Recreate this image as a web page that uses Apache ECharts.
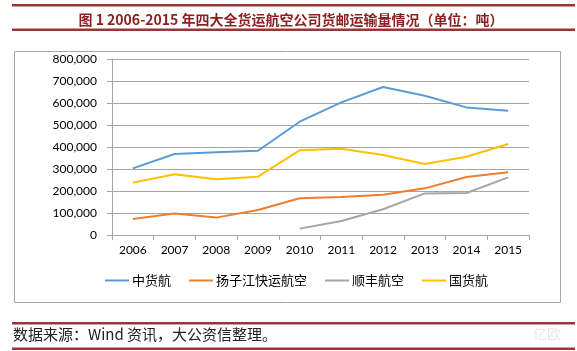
<!DOCTYPE html>
<html><head><meta charset="utf-8">
<script src="https://cdn.jsdelivr.net/npm/echarts@6/dist/echarts.min.js"></script>
<style>html,body{margin:0;padding:0;background:#fff}#c{width:577px;height:351px}</style>
</head><body><div id="c"></div>
<script>
const years = ['2006','2007','2008','2009','2010','2011','2012','2013','2014','2015'];
const ckh = [303000,368000,376000,383000,515000,603000,673000,633000,580000,565000];
const yzj = [73000,98000,79000,114000,167000,173000,183000,212000,264000,285000];
const sf = [null,null,null,null,29000,64000,117000,189000,191000,262000];
const ghh = [238000,276000,253000,265000,385000,392000,364000,323000,356000,414000];
const names = ['中货航','扬子江快运航空','顺丰航空','国货航'];
const colors = ['#5B9BD5','#ED7D31','#A5A5A5','#FFC000'];
const yTicks = [0,100000,200000,300000,400000,500000,600000,700000,800000];

const chart = echarts.init(document.getElementById('c'), null, {renderer:'canvas'});
const red = '#9B3434';
const mk = (name, data, i) => ({name, type:'line', data, symbol:'none', connectNulls:false,
  lineStyle:{width:2, color:colors[i]}, itemStyle:{color:colors[i]}, z:3});
chart.setOption({
  animation:false,
  title:{text:'图 1 2006-2015 年四大全货运航空公司货邮运输量情况（单位：吨）', left:286, textAlign:'center', top:8,
    textStyle:{fontSize:14, fontWeight:'bold', color:'#8B1F1F', fontFamily:'"Noto Sans CJK SC", "DejaVu Sans"'}},
  grid:{left:112, right:48, top:59, bottom:116},
  xAxis:{type:'category', data:years, boundaryGap:true,
    axisLine:{lineStyle:{color:'#A6A6A6'}}, axisTick:{show:true, length:5, lineStyle:{color:'#A6A6A6'}},
    axisLabel:{color:'#000', fontSize:12, fontFamily:'Lato', margin:9}},
  yAxis:{type:'value', min:0, max:800000, interval:100000,
    axisLine:{show:true, lineStyle:{color:'#A6A6A6'}}, axisTick:{show:true, length:5, lineStyle:{color:'#A6A6A6'}},
    splitLine:{lineStyle:{color:'#A6A6A6'}},
    axisLabel:{color:'#000', fontSize:12, fontFamily:'Lato', margin:15,
      formatter:v=>v.toLocaleString('en-US')}},
  legend:{left:100, top:269, itemWidth:24, itemHeight:2, itemGap:18, icon:'rect',
    textStyle:{fontSize:13, color:'#000', fontFamily:'"Noto Sans CJK SC"', padding:[0,0,0,-2]},
    data:names},
  series:[mk(names[0],ckh,0), mk(names[1],yzj,1), mk(names[2],sf,2), mk(names[3],ghh,3)],
  graphic:[
    {type:'rect', shape:{x:0,y:4,width:563,height:2.5}, left:12, top:4, style:{fill:red}},
    {type:'rect', shape:{x:0,y:0,width:563,height:2.5}, left:12, top:28.5, style:{fill:red}},
    {type:'rect', shape:{x:14.5,y:51.5,width:546,height:251}, style:{fill:'none', stroke:'#A6A6A6', lineWidth:1}, z:-1},
    {type:'rect', left:12, top:322, shape:{x:0,y:0,width:563,height:2.5}, style:{fill:red}},
    {type:'rect', left:12, top:347.5, shape:{x:0,y:0,width:563,height:2.5}, style:{fill:red}},
    {type:'text', left:13, top:327, style:{text:'数据来源：Wind 资讯，大公资信整理。', fontSize:15, fill:'#222', fontFamily:'"Noto Sans CJK SC"'}},
    {type:'text', left:533, top:327, style:{text:'亿欧', fontSize:14, fill:'#e8e8e8', fontFamily:'"Noto Sans CJK SC"'}}
  ]
});
</script></body></html>
